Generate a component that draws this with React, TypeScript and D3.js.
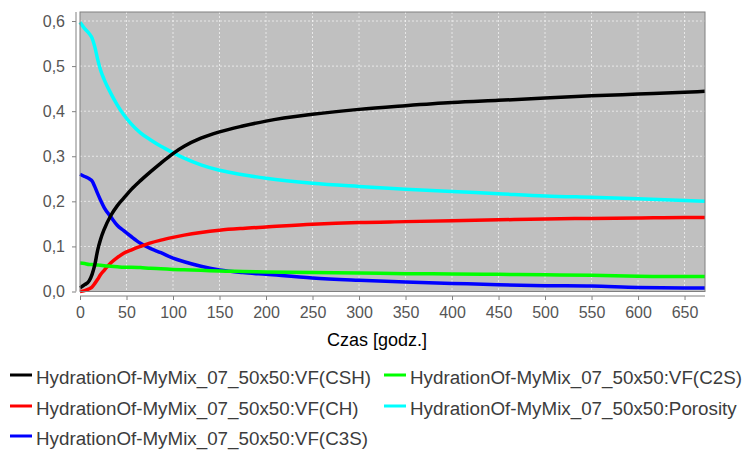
import React, { useEffect, useRef } from 'react';
import * as d3 from 'd3';

// czas hydratacji [godz.]
const hours = [0, 5, 10, 13, 16, 19, 22, 26, 33, 40, 47, 55, 65, 76, 87, 100, 112, 130, 150, 175, 200, 250, 300, 350, 400, 450, 500, 550, 600, 650, 672];

const csh = [0.008, 0.015, 0.024, 0.038, 0.06, 0.092, 0.115, 0.138, 0.168, 0.19, 0.207, 0.226, 0.246, 0.266, 0.285, 0.306, 0.322, 0.34, 0.354, 0.367, 0.378, 0.393, 0.404, 0.412, 0.419, 0.424, 0.429, 0.434, 0.438, 0.442, 0.444];
const c2s = [0.063, 0.062, 0.06, 0.06, 0.059, 0.059, 0.058, 0.057, 0.056, 0.055, 0.054, 0.054, 0.053, 0.0515, 0.0505, 0.049, 0.048, 0.047, 0.0455, 0.0445, 0.0435, 0.042, 0.041, 0.0395, 0.039, 0.038, 0.037, 0.036, 0.034, 0.033, 0.033];
const ch = [0.0, 0.002, 0.006, 0.01, 0.018, 0.027, 0.037, 0.047, 0.063, 0.075, 0.085, 0.092, 0.1, 0.108, 0.114, 0.12, 0.125, 0.131, 0.136, 0.14, 0.143, 0.149, 0.153, 0.155, 0.157, 0.159, 0.161, 0.162, 0.163, 0.164, 0.164];
const porosity = [0.597, 0.583, 0.572, 0.562, 0.542, 0.515, 0.492, 0.47, 0.44, 0.414, 0.392, 0.372, 0.352, 0.336, 0.322, 0.308, 0.296, 0.281, 0.269, 0.259, 0.251, 0.24, 0.233, 0.227, 0.222, 0.217, 0.212, 0.209, 0.206, 0.202, 0.2];
const c3s = [0.26, 0.255, 0.25, 0.245, 0.232, 0.217, 0.203, 0.186, 0.166, 0.147, 0.135, 0.122, 0.107, 0.095, 0.086, 0.074, 0.066, 0.056, 0.048, 0.042, 0.038, 0.03, 0.025, 0.021, 0.018, 0.015, 0.013, 0.012, 0.009, 0.008, 0.008];

const seriesNames = [
  'HydrationOf-MyMix_07_50x50:VF(CSH)',
  'HydrationOf-MyMix_07_50x50:VF(C2S)',
  'HydrationOf-MyMix_07_50x50:VF(CH)',
  'HydrationOf-MyMix_07_50x50:Porosity',
  'HydrationOf-MyMix_07_50x50:VF(C3S)',
];
const seriesColors = ['#000000', '#00ff00', '#ff0000', '#00ffff', '#0000ff'];
const seriesValues = [csh, c2s, ch, porosity, c3s];

const xTicks = [0, 50, 100, 150, 200, 250, 300, 350, 400, 450, 500, 550, 600, 650];
const yTicks = [0, 0.1, 0.2, 0.3, 0.4, 0.5, 0.6];

const W = 747;
const H = 450;
const font = '"Liberation Sans", Arial, sans-serif';

const App = () => {
  const svgRef = useRef<SVGSVGElement | null>(null);

  useEffect(() => {
    const svg = d3.select(svgRef.current);
    svg.selectAll('*').remove();

    const plot = { left: 80, right: 705, top: 12, bottom: 291.5 };

    const x = d3.scaleLinear().domain([0, 672]).range([plot.left, plot.right]);
    const y = d3.scaleLinear().domain([0, 0.62]).range([plot.bottom, plot.top]);

    svg.append('rect')
      .attr('x', plot.left).attr('y', plot.top)
      .attr('width', plot.right - plot.left).attr('height', plot.bottom - plot.top)
      .attr('fill', '#c0c0c0');

    // siatka
    svg.append('g').selectAll('line')
      .data(xTicks.slice(1))
      .join('line')
      .attr('x1', d => x(d)).attr('x2', d => x(d))
      .attr('y1', plot.top).attr('y2', plot.bottom)
      .attr('stroke', '#ffffff').attr('stroke-width', 0.8)
      .attr('stroke-dasharray', '2,2').attr('opacity', 0.8);

    svg.append('g').selectAll('line')
      .data(yTicks.slice(1))
      .join('line')
      .attr('x1', plot.left).attr('x2', plot.right)
      .attr('y1', d => y(d)).attr('y2', d => y(d))
      .attr('stroke', '#ffffff').attr('stroke-width', 0.8)
      .attr('stroke-dasharray', '2,2').attr('opacity', 0.8);

    const line = d3.line<number>()
      .x((_, i) => x(hours[i]))
      .y(d => y(d))
      .curve(d3.curveMonotoneX);

    const g = svg.append('g');
    // pierwsza seria rysowana na wierzchu
    for (let s = seriesValues.length - 1; s >= 0; s--) {
      g.append('path')
        .attr('d', line(seriesValues[s]))
        .attr('fill', 'none')
        .attr('stroke', seriesColors[s])
        .attr('stroke-width', 3.5)
        .attr('stroke-linejoin', 'round');
    }

    svg.append('rect')
      .attr('x', plot.left).attr('y', plot.top)
      .attr('width', plot.right - plot.left).attr('height', plot.bottom - plot.top)
      .attr('fill', 'none').attr('stroke', '#808080').attr('stroke-width', 1);

    const fmt = (v: number) => d3.format('.1f')(v).replace('.', ',');

    const yAxis = d3.axisLeft(y).tickValues(yTicks).tickFormat(d => fmt(d as number))
      .tickSizeInner(4).tickSizeOuter(0).tickPadding(7);
    const ya = svg.append('g').attr('transform', `translate(76,0)`).call(yAxis);
    ya.select('.domain').attr('stroke', '#808080').attr('d', `M0,${plot.top}V${plot.bottom}`);
    ya.selectAll('.tick line').attr('stroke', '#808080');
    ya.selectAll('.tick text').attr('fill', '#555555')
      .style('font-family', font).style('font-size', '16px');

    const xAxis = d3.axisBottom(x).tickValues(xTicks).tickFormat(d => String(d))
      .tickSizeInner(4).tickSizeOuter(0).tickPadding(7);
    const xa = svg.append('g').attr('transform', `translate(0,296)`).call(xAxis);
    xa.select('.domain').attr('stroke', '#808080').attr('d', `M${plot.left},0H${plot.right}`);
    xa.selectAll('.tick line').attr('stroke', '#808080');
    xa.selectAll('.tick text').attr('fill', '#555555')
      .style('font-family', font).style('font-size', '16px');

    svg.append('text')
      .attr('x', 377).attr('y', 346)
      .attr('text-anchor', 'middle')
      .style('font-family', font).style('font-size', '18px')
      .attr('fill', '#000')
      .text('Czas [godz.]');

    // legenda
    const legendPos = [
      { x: 10, y: 375 }, { x: 384, y: 375 },
      { x: 10, y: 406 }, { x: 384, y: 406 },
      { x: 10, y: 436 },
    ];
    const lg = svg.append('g');
    seriesNames.forEach((name, i) => {
      const p = legendPos[i];
      lg.append('line')
        .attr('x1', p.x).attr('x2', p.x + 22)
        .attr('y1', p.y).attr('y2', p.y)
        .attr('stroke', seriesColors[i]).attr('stroke-width', 3);
      lg.append('text')
        .attr('x', p.x + 26).attr('y', p.y + 8.5)
        .style('font-family', font).style('font-size', '18.8px')
        .attr('fill', '#3c3c3c')
        .text(name);
    });
  }, []);

  return (
    <svg ref={svgRef} width={W} height={H}
      style={{ position: 'absolute', left: 0, top: 0, background: '#fff' }} />
  );
};

export default App;
